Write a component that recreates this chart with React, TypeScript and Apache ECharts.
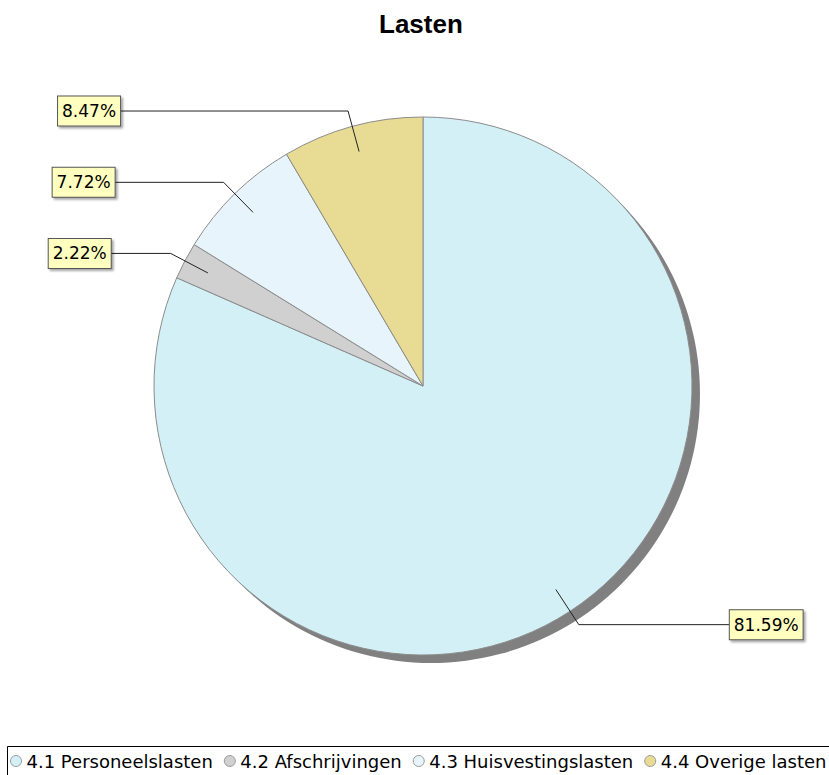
import React, { useEffect, useRef } from "react";
import * as echarts from "echarts";

const categories = [
  "4.1 Personeelslasten",
  "4.2 Afschrijvingen",
  "4.3 Huisvestingslasten",
  "4.4 Overige lasten",
];
const shares = [81.59, 2.22, 7.72, 8.47];
const sliceColors = ["#d3f0f6", "#d0d0d0", "#e8f4fb", "#e8dc94"];
const titleText = "Lasten";

// layout of the label connector horizontal segments (px)
const labelLineLength2 = [151, 60, 109, 228];

export default function App() {
  const ref = useRef<HTMLDivElement>(null);

  useEffect(() => {
    document.body.style.margin = "0";
    document.body.style.overflow = "hidden";
    if (!ref.current) return;
    const chart = echarts.init(ref.current, undefined, { renderer: "svg" });

    const center = [423, 386];
    const R = 269;

    const mainData = categories.map((name, i) => ({
      name,
      value: shares[i],
      itemStyle: { color: sliceColors[i] },
    }));

    const labelData = categories.map((name, i) => ({
      name,
      value: shares[i],
      labelLine: { length2: labelLineLength2[i] },
    }));

    chart.setOption({
      animation: false,
      backgroundColor: "#ffffff",
      title: {
        text: titleText,
        left: 379,
        top: 11,
        padding: 0,
        textStyle: {
          fontFamily: "Liberation Sans",
          fontWeight: "bold",
          fontSize: 26,
          lineHeight: 26,
          color: "#000",
        },
      },
      legend: {
        data: categories,
        orient: "horizontal",
        left: 10,
        top: 751,
        width: 900,
        padding: 0,
        itemWidth: 11,
        itemHeight: 11,
        itemGap: 11,
        icon: "circle",
        selectedMode: false,
        itemStyle: { borderColor: "#999", borderWidth: 1 },
        textStyle: {
          fontFamily: "DejaVu Sans",
          fontSize: 18,
          lineHeight: 20,
          color: "#000",
        },
      },
      graphic: [
        {
          type: "rect",
          silent: true,
          shape: { x: 7.5, y: 746.5, width: 900, height: 100 },
          style: { fill: "none", stroke: "#000", lineWidth: 1 },
        },
      ],
      series: [
        {
          name: "shadow",
          type: "pie",
          silent: true,
          z: 1,
          center: [center[0] + 8, center[1] + 8],
          radius: R,
          label: { show: false },
          labelLine: { show: false },
          emphasis: { disabled: true },
          data: [{ name: "schaduw", value: 1, itemStyle: { color: "#808080" } }],
        },
        {
          name: "Lasten",
          type: "pie",
          silent: true,
          z: 2,
          center,
          radius: R,
          startAngle: 90,
          clockwise: true,
          label: { show: false },
          labelLine: { show: false },
          emphasis: { disabled: true },
          itemStyle: { borderColor: "#8c8c8c", borderWidth: 1 },
          data: mainData,
        },
        {
          name: "labels",
          type: "pie",
          silent: true,
          z: 3,
          center,
          radius: 243,
          startAngle: 90,
          clockwise: true,
          avoidLabelOverlap: false,
          emphasis: { disabled: true },
          itemStyle: { color: "rgba(0,0,0,0)", borderWidth: 0 },
          label: {
            show: true,
            position: "outside",
            alignTo: "none",
            distanceToLabelLine: 0,
            formatter: (p: any) => p.percent.toFixed(2) + "%",
            fontFamily: "DejaVu Sans",
            fontSize: 17,
            lineHeight: 19,
            color: "#000",
            backgroundColor: "#ffffc0",
            borderColor: "#555",
            borderWidth: 1,
            padding: [5, 4, 5, 4],
            shadowColor: "rgba(0,0,0,0.35)",
            shadowBlur: 2,
            shadowOffsetX: 2,
            shadowOffsetY: 2,
          },
          labelLine: {
            show: true,
            length: 42,
            length2: 100,
            smooth: false,
            minTurnAngle: 0,
            lineStyle: { color: "#222", width: 1 },
          },
          data: labelData,
        },
      ],
    });

    return () => {
      chart.dispose();
    };
  }, []);

  return <div ref={ref} style={{ width: 829, height: 775 }} />;
}
